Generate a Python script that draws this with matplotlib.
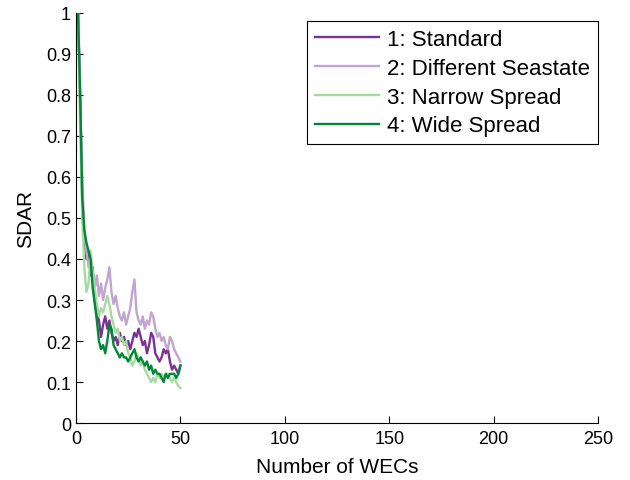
import numpy as np
import matplotlib
matplotlib.use("Agg")
import matplotlib.pyplot as plt

plt.rcParams['font.family'] = ['Liberation Sans', 'DejaVu Sans']

# number of WECs
n_wecs = np.arange(1, 51)

# SDAR per scenario
sdar_standard = [1.0, 0.80, 0.55, 0.45, 0.40, 0.42, 0.36, 0.38, 0.30, 0.27,
                 0.25, 0.21, 0.24, 0.26, 0.23, 0.25, 0.22, 0.20, 0.21, 0.19,
                 0.22, 0.20, 0.21, 0.19, 0.20, 0.18, 0.20, 0.22, 0.21, 0.23,
                 0.21, 0.19, 0.20, 0.17, 0.19, 0.22, 0.21, 0.17, 0.16, 0.15,
                 0.16, 0.18, 0.17, 0.18, 0.15, 0.13, 0.14, 0.13, 0.12, 0.14]
sdar_seastate = [1.0, 0.78, 0.60, 0.47, 0.42, 0.38, 0.40, 0.36, 0.33, 0.36,
                 0.31, 0.34, 0.30, 0.33, 0.35, 0.38, 0.32, 0.29, 0.31, 0.28,
                 0.26, 0.25, 0.27, 0.24, 0.26, 0.28, 0.32, 0.35, 0.27, 0.25,
                 0.24, 0.26, 0.23, 0.25, 0.24, 0.27, 0.26, 0.23, 0.21, 0.22,
                 0.20, 0.21, 0.19, 0.18, 0.21, 0.20, 0.18, 0.17, 0.16, 0.15]
sdar_narrow = [1.0, 0.72, 0.50, 0.38, 0.32, 0.34, 0.42, 0.37, 0.33, 0.29,
               0.26, 0.28, 0.27, 0.29, 0.31, 0.29, 0.26, 0.24, 0.22, 0.23,
               0.20, 0.21, 0.19, 0.20, 0.17, 0.16, 0.14, 0.15, 0.17, 0.16,
               0.14, 0.15, 0.13, 0.12, 0.11, 0.10, 0.11, 0.10, 0.12, 0.11,
               0.12, 0.11, 0.12, 0.12, 0.11, 0.10, 0.11, 0.10, 0.09, 0.085]
sdar_wide = [1.0, 0.80, 0.55, 0.47, 0.44, 0.42, 0.40, 0.33, 0.29, 0.25,
             0.20, 0.18, 0.19, 0.17, 0.20, 0.24, 0.23, 0.19, 0.18, 0.17,
             0.16, 0.17, 0.16, 0.16, 0.15, 0.16, 0.17, 0.18, 0.16, 0.15,
             0.16, 0.15, 0.14, 0.15, 0.13, 0.14, 0.12, 0.13, 0.12, 0.12,
             0.11, 0.10, 0.12, 0.11, 0.12, 0.12, 0.12, 0.11, 0.12, 0.14]

labels = ["1: Standard", "2: Different Seastate", "3: Narrow Spread", "4: Wide Spread"]
colors = ["#7b3294", "#c2a5cf", "#a6dba0", "#008837"]

fig = plt.figure(figsize=(6.3, 4.81), dpi=100)
ax = fig.add_axes([0.1206, 0.1185, 0.8286, 0.8524])

for ys, lab, c in zip([sdar_standard, sdar_seastate, sdar_narrow, sdar_wide], labels, colors):
    ax.plot(n_wecs, ys, color=c, lw=1.7, label=lab)

ax.set_xlim(0, 250)
ax.set_ylim(0, 1)
ax.set_xticks(np.arange(0, 251, 50))
ax.set_yticks(np.arange(0, 1.01, 0.1))
ax.set_yticklabels(["0", "0.1", "0.2", "0.3", "0.4", "0.5", "0.6", "0.7", "0.8", "0.9", "1"])
ax.tick_params(direction='in', length=5, labelsize=13, width=0.8)
ax.tick_params(axis='x', pad=5)
ax.spines['top'].set_visible(False)
ax.spines['right'].set_visible(False)
ax.set_xlabel("Number of WECs", fontsize=15, labelpad=7)
ax.set_ylabel("SDAR", fontsize=15, labelpad=8)

leg = ax.legend(loc='upper right', bbox_to_anchor=(1.0, 0.98), fontsize=16,
                fancybox=False, edgecolor='black', framealpha=1,
                handlelength=2.9, handletextpad=0.35, labelspacing=0.35,
                borderaxespad=0, borderpad=0.35)
leg.get_frame().set_linewidth(0.8)

fig.savefig("out.png", dpi=100)
